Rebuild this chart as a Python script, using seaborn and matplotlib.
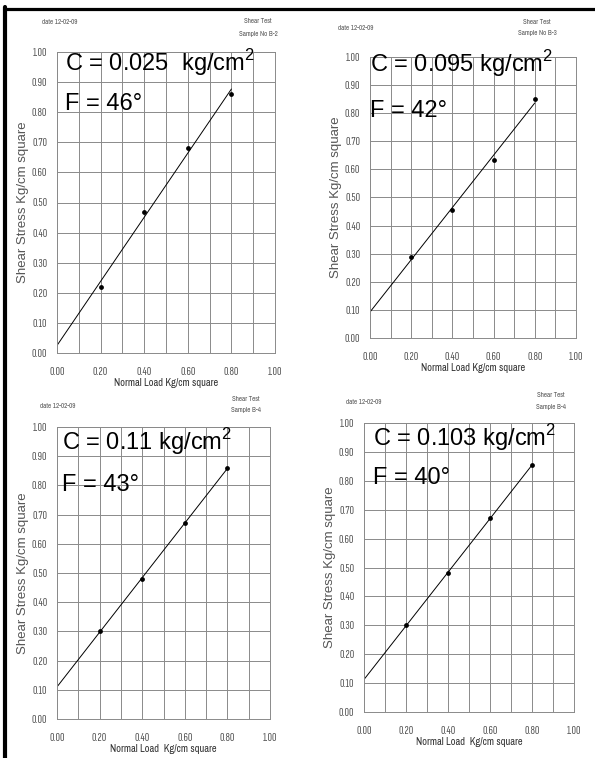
import seaborn as sns
import matplotlib.pyplot as plt
from matplotlib.lines import Line2D
from matplotlib.ticker import MultipleLocator
import numpy as np

normal_load = [0.2, 0.4, 0.6, 0.8]
shear_b2 = [0.22, 0.47, 0.68, 0.86]
shear_b3 = [0.29, 0.455, 0.635, 0.85]
shear_b4a = [0.30, 0.48, 0.67, 0.86]
shear_b4b = [0.30, 0.48, 0.67, 0.855]
cohesion = ["0.025  ", "0.095 ", "0.11 ", "0.103 "]
friction = ["46", "42", "43", "40"]
samples = ["Sample No B-2", "Sample No B-3", "Sample B-4", "Sample B-4"]
xlabels = ["Normal Load Kg/cm square", "Normal Load Kg/cm square",
           "Normal Load  Kg/cm square", "Normal Load  Kg/cm square"]
date_txt = "date 12-02-09"
ylabel = "Shear Stress Kg/cm square"

sns.set_style("white")
plt.rcParams['font.family'] = ['Liberation Sans', 'DejaVu Sans']
plt.rcParams['mathtext.fontset'] = 'custom'
plt.rcParams['mathtext.rm'] = 'Liberation Sans'
narrow = ['Archivo Narrow', 'Liberation Sans']
xnarrow = ['Sofia Sans Extra Condensed', 'Archivo Narrow', 'Liberation Sans']

W, H = 595, 758
fig = plt.figure(figsize=(W / 100, H / 100), dpi=100)

def fx(px):
    return px / W

def fy(py):
    return 1 - py / H

# pixel boxes: left, right, top, bottom
boxes = [(57, 275, 52, 353), (370, 576, 57, 338), (57, 270, 427, 719), (364, 574, 423, 712)]
series = [shear_b2, shear_b3, shear_b4a, shear_b4b]
# header positions: date (x,y), shear test (x,y), sample (x,y)
heads = [((42, 22), (258, 21), (258, 34)),
         ((338, 28), (537, 22), (537, 33)),
         ((40, 406), (246, 399), (246, 410)),
         ((346, 402), (551, 395), (551, 407))]
# big annotation positions: left x, C center y, F center y
notes = [(65, 63, 104), (370, 64, 111), (62, 442, 485), (373, 438, 478)]

for i in range(4):
    l, r, t, b = boxes[i]
    ax = fig.add_axes([fx(l), fy(b), (r - l) / W, (b - t) / H])
    ax.set_xlim(0, 1)
    ax.set_ylim(0, 1)
    ax.xaxis.set_major_locator(MultipleLocator(0.2))
    ax.xaxis.set_minor_locator(MultipleLocator(0.1))
    ax.yaxis.set_major_locator(MultipleLocator(0.1))
    ax.yaxis.set_minor_locator(MultipleLocator(0.01))
    ax.grid(True, which='major', color='#8a8a8a', lw=0.7)
    ax.grid(True, which='minor', axis='x', color='#8a8a8a', lw=0.7)
    for s in ax.spines.values():
        s.set_color('#8a8a8a')
        s.set_linewidth(0.7)
    ax.tick_params(axis='x', which='both', length=0, pad=10, labelsize=9, labelcolor='#555555')
    ax.tick_params(axis='y', which='major', direction='out', length=4, width=0.6,
                   color='#777777', pad=3, labelsize=9, labelcolor='#555555')
    ax.tick_params(axis='y', which='minor', direction='in', length=2.5, width=0.4, color='#999999')
    ax.tick_params(axis='x', which='minor', labelbottom=False)
    ax.xaxis.set_major_formatter(lambda v, p: f"{v:.2f}")
    ax.yaxis.set_major_formatter(lambda v, p: f"{v:.2f}")
    for lab in ax.get_xticklabels() + ax.get_yticklabels():
        lab.set_family(xnarrow)

    # least squares failure envelope from x=0 to the last point
    slope, icpt = np.polyfit(normal_load, series[i], 1)
    xs = np.array([0.0, normal_load[-1]])
    sns.lineplot(x=xs, y=icpt + slope * xs, ax=ax, color='black', lw=0.7)
    sns.scatterplot(x=normal_load, y=series[i], ax=ax, color='black', s=12,
                    edgecolor='black', linewidth=0, zorder=5)

    ax.set_xlabel(xlabels[i], fontsize=7.5, color='#333333', labelpad=1, family=narrow)
    ax.set_ylabel(ylabel, fontsize=9.5, color='#555555', labelpad=2)

    (dx, dy), (sx, sy), (px, py) = heads[i]
    fig.text(fx(dx), fy(dy), date_txt, fontsize=5, color='#555555', va='center', family=narrow)
    fig.text(fx(sx), fy(sy), "Shear Test", fontsize=5, color='#555555', va='center',
             ha='center', family=narrow)
    fig.text(fx(px), fy(py), samples[i], fontsize=5, color='#555555', va='center',
             ha='center', family=narrow)

    nx, cy, fyy = notes[i]
    fig.text(fx(nx), fy(cy), "C = " + cohesion[i] + "kg/cm$^2$", fontsize=17,
             va='center', color='black')
    fig.text(fx(nx), fy(fyy), "F = " + friction[i] + "°", fontsize=17,
             va='center', color='black')

# scanned page frame (left and top edges only)
fig.add_artist(Line2D([fx(5), fx(5)], [0, fy(7)], color='black', lw=3))
fig.add_artist(Line2D([fx(4), 1], [fy(8.5), fy(8.5)], color='black', lw=2.3))

fig.savefig("out.png", dpi=100)
